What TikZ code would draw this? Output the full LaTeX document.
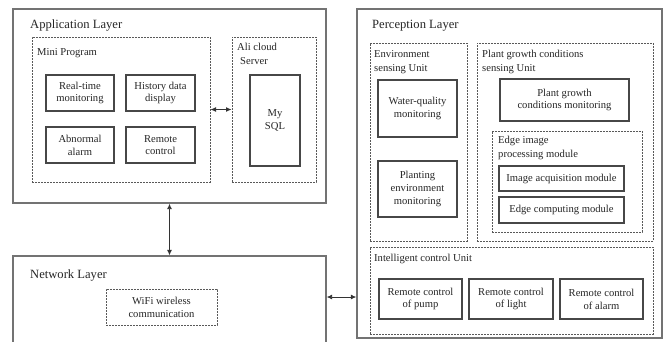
\documentclass[tikz,border=0pt]{standalone}
\usepackage{fontspec}
\setmainfont{Liberation Serif}
\usetikzlibrary{arrows.meta}
\begin{document}
\begin{tikzpicture}[x=1pt,y=-1pt,
  layer/.style={draw=black!55,line width=1.3pt,fill=none,inner sep=0pt},
  unitbox/.style={draw=black!65,line width=1pt,dash pattern=on 1.7pt off 1.3pt,inner sep=0pt},
  modbox/.style={draw=black!72,line width=1.2pt,align=center,inner sep=0pt,font=\fontsize{10.6}{12.8}\selectfont,text=black!85},
  ttl/.style={anchor=base west,inner sep=0pt,font=\fontsize{12.6}{14}\selectfont,text=black!85},
  lbl/.style={anchor=base west,inner sep=0pt,align=left,font=\fontsize{10.6}{14}\selectfont,text=black!85},
  conn/.style={draw=black!80,line width=0.9pt,{Latex[length=5.5pt,width=5pt]}-{Latex[length=5.5pt,width=5pt]}}]
\useasboundingbox (0,0) rectangle (665,341);
\fill[white] (0,0) rectangle (665,341);
\clip (0,0) rectangle (665,341);
% Application layer
\node[layer,minimum width=313pt,minimum height=194pt] (app) at (169.5,106) {};
\node[ttl] (appt) at (30,28) {Application Layer};
\node[unitbox,minimum width=178pt,minimum height=145pt] (mini) at (121,109.5) {};
\node[lbl] (minit) at (37,55) {Mini Program};
\node[modbox,minimum width=68pt,minimum height=36pt] (rt) at (80,93) {Real-time\\monitoring};
\node[modbox,minimum width=69pt,minimum height=36pt] (hist) at (160.5,93) {History data\\display};
\node[modbox,minimum width=68pt,minimum height=36pt] (abn) at (80,145) {Abnormal\\alarm};
\node[modbox,minimum width=69pt,minimum height=36pt] (rc) at (160.5,145) {Remote\\control};
\node[unitbox,minimum width=84pt,minimum height=145pt] (ali) at (274,109.5) {};
\node[lbl] (alit) at (237,64) {Ali cloud\\\hspace*{3pt}Server};
\node[modbox,minimum width=50pt,minimum height=91pt] (sql) at (275,120.5) {My\\SQL};
\draw[conn] (mini.east) -- (ali.west);
% Network layer
\node[layer,minimum width=313pt,minimum height=104pt] (net) at (169.5,308) {};
\node[ttl] (nett) at (30,278) {Network Layer};
\node[unitbox,modbox,dash pattern=on 1.7pt off 1.3pt,draw=black!65,line width=1pt,minimum width=111pt,minimum height=36pt] (wifi) at (161.5,307) {WiFi wireless\\communication};
\draw[conn] (app.south) -- (net.north);
% Perception layer
\node[layer,minimum width=305pt,minimum height=329pt] (perc) at (509.5,173.5) {};
\node[ttl] (perct) at (372,28) {Perception Layer};
\node[unitbox,minimum width=97pt,minimum height=198pt] (env) at (418.5,142) {};
\node[lbl] (envt) at (374,71) {Environment\\sensing Unit};
\node[modbox,minimum width=79pt,minimum height=57pt] (wq) at (417.5,108.5) {Water-quality\\monitoring};
\node[modbox,minimum width=79pt,minimum height=56pt] (pe) at (417.5,189) {Planting\\environment\\monitoring};
\node[unitbox,minimum width=176pt,minimum height=198pt] (pg) at (565,142) {};
\node[lbl] (pgt) at (482,71) {Plant growth conditions\\sensing Unit};
\node[modbox,minimum width=129pt,minimum height=42pt] (pgm) at (564.5,100) {Plant growth\\conditions monitoring};
\node[unitbox,minimum width=150pt,minimum height=101pt] (edge) at (567,181.5) {};
\node[lbl] (edget) at (498,157) {Edge image\\processing module};
\node[modbox,minimum width=125pt,minimum height=25pt] (iam) at (561.5,178.5) {Image acquisition module};
\node[modbox,minimum width=125pt,minimum height=26pt] (ecm) at (561.5,210) {Edge computing module};
\node[unitbox,minimum width=283pt,minimum height=87pt] (ic) at (511.5,290.5) {};
\node[lbl] (ict) at (374,261) {Intelligent control Unit};
\node[modbox,minimum width=83pt,minimum height=40pt] (pump) at (420.5,299) {Remote control\\of pump};
\node[modbox,minimum width=84pt,minimum height=40pt] (light) at (511,299) {Remote control\\of light};
\node[modbox,minimum width=83pt,minimum height=40pt] (alarm) at (601.5,299) {Remote control\\of alarm};
\coordinate (harr) at (340,297);
\draw[conn] (net.east |- harr) -- (perc.west |- harr);
\end{tikzpicture}
\end{document}
